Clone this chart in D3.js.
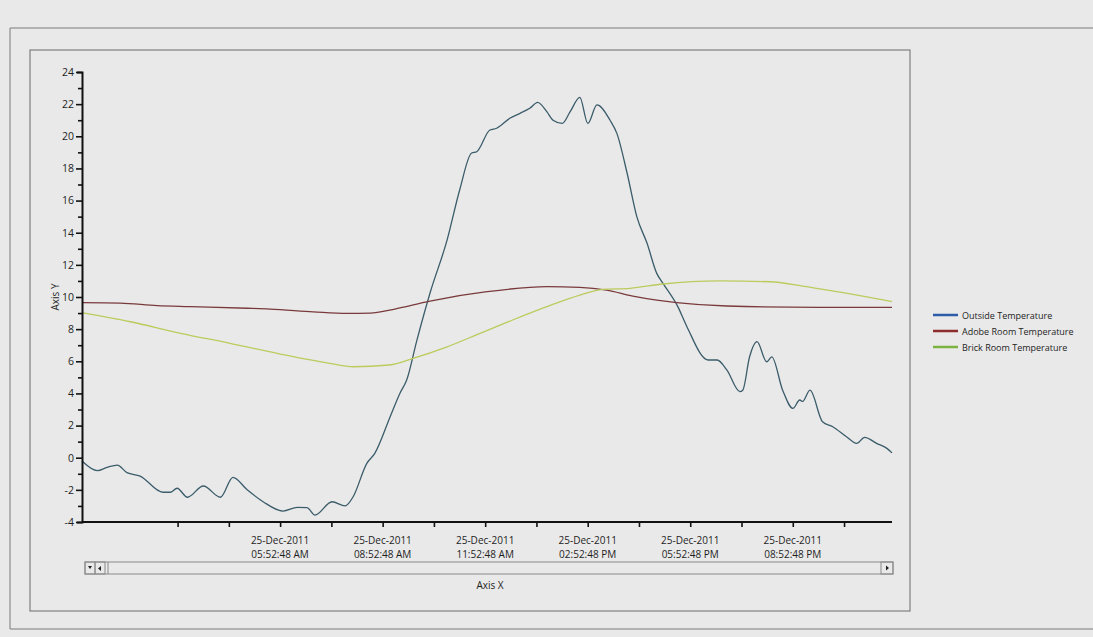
<!DOCTYPE html>
<html>
<head>
<meta charset="utf-8">
<script src="https://cdn.jsdelivr.net/npm/d3@7"></script>
<style>
  body { margin: 0; background: #e9e9e9; }
  svg text { font-family: "Open Sans", "Noto Sans", sans-serif; fill: #1e1e1e; }
</style>
</head>
<body>
<div id="chart"></div>
<script>
// data (25-Dec-2011, local time)
const outsideTimes = ["00:05","00:32","00:49","01:07","01:24","01:47","02:27","02:40","02:52","03:10","03:38","04:08","04:30","04:55","05:23","05:58","06:23","06:40","06:54","07:24","07:47","08:01","08:25","08:39","09:06","09:23","09:35","09:53","10:16","10:46","11:08","11:29","11:38","12:01","12:13","12:36","12:54","13:11","13:25","13:41","13:52","14:08","14:22","14:39","14:53","15:09","15:32","15:44","16:02","16:19","16:37","16:54","17:05","17:31","17:47","18:24","18:40","18:57","19:20","19:25","19:37","19:50","20:07","20:16","20:35","20:53","21:05","21:10","21:23","21:45","22:03","22:27","22:45","22:59","23:20","23:38","23:47"];
const outsideValues = [-0.2,-0.8,-0.6,-0.46,-0.93,-1.14,-2.15,-2.15,-1.9,-2.46,-1.76,-2.46,-1.22,-2.0,-2.74,-3.32,-3.09,-3.1,-3.57,-2.74,-3.0,-2.43,-0.35,0.27,2.55,4.0,4.83,7.32,10.25,13.55,16.66,18.96,19.04,20.39,20.5,21.12,21.43,21.74,22.11,21.53,21.0,20.8,21.53,22.42,20.8,21.95,21.0,20.18,17.7,15.0,13.34,11.47,10.85,9.4,8.15,6.08,6.08,5.46,4.11,4.2,6.28,7.22,5.97,6.28,4.2,3.07,3.59,3.5,4.2,2.24,1.93,1.31,0.89,1.27,0.89,0.58,0.3];

const adobeTimes = ["00:05","01:12","02:17","03:15","04:55","05:35","06:51","07:50","08:31","09:05","09:23","10:16","11:56","13:41","14:39","15:26","16:12","16:54","17:29","18:57","21:40","23:47"];
const adobeValues = [9.65,9.62,9.46,9.4,9.3,9.25,9.08,8.98,9.0,9.18,9.32,9.75,10.33,10.64,10.6,10.43,10.06,9.81,9.65,9.44,9.36,9.36];

const brickTimes = ["00:05","01:30","02:58","04:25","05:53","07:20","08:01","09:05","09:46","10:46","11:44","12:41","13:41","14:39","15:19","16:07","17:05","18:45","20:13","21:10","22:10","23:47"];
const brickValues = [9.03,8.46,7.74,7.12,6.45,5.87,5.66,5.77,6.18,6.9,7.74,8.57,9.4,10.12,10.48,10.54,10.81,11.0,10.95,10.68,10.33,9.71];

const seriesNames = ["Outside Temperature", "Adobe Room Temperature", "Brick Room Temperature"];
const lineColors = ["#3b5c6a", "#7a3a3c", "#bccb5c"];
const legendColors = ["#2f5ca8", "#8e2d2d", "#7cb342"];

const xTickTimes = ["02:52:48","04:22:48","05:52:48","07:22:48","08:52:48","10:22:48","11:52:48","13:22:48","14:52:48","16:22:48","17:52:48","19:22:48","20:52:48","22:22:48"];
const xLabelTimes = ["05:52:48","08:52:48","11:52:48","14:52:48","17:52:48","20:52:48"];
const xLabelText = ["05:52:48 AM","08:52:48 AM","11:52:48 AM","02:52:48 PM","05:52:48 PM","08:52:48 PM"];
const dateLabel = "25-Dec-2011";
const yTicks = d3.range(-4, 25, 1);

// ---- setup
const width = 1093, height = 637;
const svg = d3.select("#chart").append("svg").attr("width", width).attr("height", height);

const parseHM = d3.timeParse("%Y-%m-%d %H:%M");
const parseHMS = d3.timeParse("%Y-%m-%d %H:%M:%S");
const hm = s => parseHM("2011-12-25 " + s);
const hms = s => parseHMS("2011-12-25 " + s);

const plotLeft = 82, plotRight = 892, plotTop = 72, plotBottom = 522;
const x = d3.scaleTime().domain([hm("00:05"), hm("23:47")]).range([plotLeft, plotRight]);
const y = d3.scaleLinear().domain([-4, 24]).range([plotBottom, plotTop]);

// frames
svg.append("path").attr("d", "M 1093,28 L 10,28 L 10,629 L 1093,629")
  .attr("fill", "none").attr("stroke", "#7a7a7a").attr("stroke-width", 1);
svg.append("rect").attr("x", 30).attr("y", 50).attr("width", 880).attr("height", 561)
  .attr("fill", "none").attr("stroke", "#6a6a6a").attr("stroke-width", 1);

// series
const series = [
  outsideTimes.map((t, i) => [hm(t), outsideValues[i]]),
  adobeTimes.map((t, i) => [hm(t), adobeValues[i]]),
  brickTimes.map((t, i) => [hm(t), brickValues[i]])
];
const line = d3.line().x(d => x(d[0])).y(d => y(d[1])).curve(d3.curveMonotoneX);
svg.append("g").selectAll("path").data(series).enter().append("path")
  .attr("d", d => line(d)).attr("fill", "none")
  .attr("stroke", (d, i) => lineColors[i]).attr("stroke-width", 1.3);

// y axis
const yAxis = svg.append("g").attr("transform", "translate(" + plotLeft + ",0)")
  .call(d3.axisLeft(y).tickValues(yTicks).tickSize(5).tickFormat(d => d % 2 === 0 ? d : ""));
yAxis.select(".domain").attr("stroke", "#111").attr("stroke-width", 2);
yAxis.selectAll(".tick line").attr("stroke", "#111").attr("stroke-width", 1.6)
  .attr("x2", d => d % 2 === 0 ? -6 : -4);
yAxis.selectAll(".tick text").attr("font-size", 10.5).attr("x", -8).attr("fill", "#1e1e1e");
svg.append("text").attr("transform", "translate(59," + ((plotTop + plotBottom) / 2) + ") rotate(-90)")
  .attr("text-anchor", "middle").attr("font-size", 10).text("Axis Y");

// x axis
const xAxis = svg.append("g").attr("transform", "translate(0," + plotBottom + ")")
  .call(d3.axisBottom(x).tickValues(xTickTimes.map(hms)).tickSize(5).tickFormat(""));
xAxis.select(".domain").attr("stroke", "#111").attr("stroke-width", 2).attr("d", "M" + plotLeft + ",0H" + plotRight);
xAxis.selectAll(".tick line").attr("stroke", "#111").attr("stroke-width", 1.6);

const xl = svg.append("g").selectAll("text").data(xLabelTimes).enter().append("text")
  .attr("x", d => x(hms(d))).attr("text-anchor", "middle").attr("font-size", 10);
xl.append("tspan").attr("x", d => x(hms(d))).attr("y", 544).text(dateLabel);
xl.append("tspan").attr("x", d => x(hms(d))).attr("y", 558).text((d, i) => xLabelText[i]);

svg.append("text").attr("x", 490).attr("y", 589).attr("text-anchor", "middle")
  .attr("font-size", 10).text("Axis X");

// scrollbar
const sb = svg.append("g").attr("fill", "none").attr("stroke", "#8a8a8a").attr("stroke-width", 1);
sb.append("rect").attr("x", 85).attr("y", 562).attr("width", 808).attr("height", 12);
sb.append("rect").attr("x", 85).attr("y", 562).attr("width", 10).attr("height", 12);
sb.append("rect").attr("x", 95).attr("y", 562).attr("width", 10).attr("height", 12);
sb.append("line").attr("x1", 108).attr("y1", 562).attr("x2", 108).attr("y2", 574);
sb.append("rect").attr("x", 881).attr("y", 562).attr("width", 12).attr("height", 12);
svg.append("path").attr("d", "M 88,566 L 92,566 L 90,569 Z").attr("fill", "#222");
svg.append("path").attr("d", "M 101,566 L 101,571 L 98,568.5 Z").attr("fill", "#222");
svg.append("path").attr("d", "M 886,565.5 L 886,570.5 L 889,568 Z").attr("fill", "#222");

// legend
const lg = svg.append("g").selectAll("g").data(seriesNames).enter().append("g")
  .attr("transform", (d, i) => "translate(933," + (315 + i * 16) + ")");
lg.append("line").attr("x1", 0).attr("x2", 25).attr("y1", 0).attr("y2", 0)
  .attr("stroke", (d, i) => legendColors[i]).attr("stroke-width", 2.5);
lg.append("text").attr("x", 29).attr("y", 3.5).attr("font-size", 9).text(d => d);
</script>
</body>
</html>
